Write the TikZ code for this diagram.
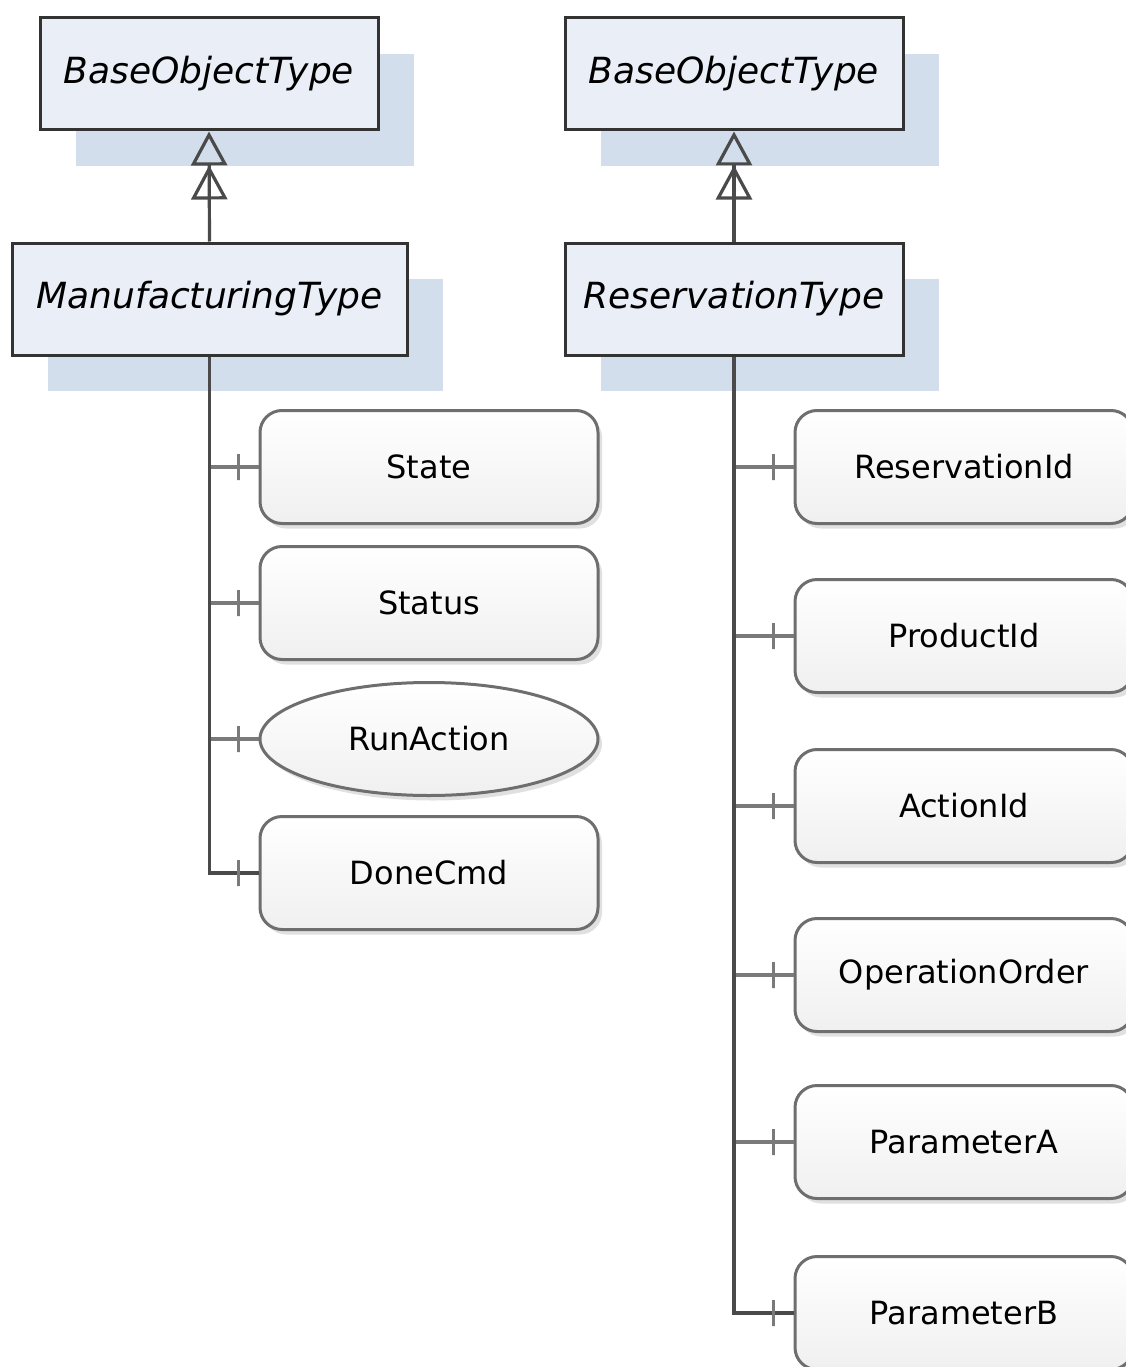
\documentclass[tikz,border=0pt]{standalone}
\usepackage{fontspec}
\setmainfont{DejaVu Sans}
\usetikzlibrary{arrows.meta,shadows,shapes.geometric}

\definecolor{typefill}{HTML}{E9EEF7}
\definecolor{typeshade}{HTML}{D3DEED}
\definecolor{typeline}{HTML}{333333}
\definecolor{trunkline}{HTML}{4A4A4A}
\definecolor{branchline}{HTML}{7A7A7A}
\definecolor{memberline}{HTML}{6E6E6E}

\tikzset{
  typebox/.style={draw=typeline, line width=3pt, fill=typefill, rectangle,
    inner sep=0pt, minimum height=112pt,
    general shadow={fill=typeshade, shadow xshift=36pt, shadow yshift=-36pt},
    font=\fontsize{36}{42}\selectfont\itshape},
  member/.style={draw=memberline, line width=3pt, rectangle, rounded corners=22pt,
    inner sep=0pt, minimum width=338pt, minimum height=113pt,
    top color=white, bottom color=black!6, middle color=black!3,
    drop shadow={shadow xshift=4pt, shadow yshift=-5pt, opacity=0.12, fill=black},
    font=\fontsize{32}{38}\selectfont},
  memberoval/.style={member, ellipse, rounded corners=0pt},
  trunk/.style={draw=trunkline, line width=3.2pt},
  branch/.style={draw=branchline, line width=3.2pt},
  tickbar/.style={draw=branchline, line width=3pt, rectangle, inner sep=0pt,
    minimum width=0pt, minimum height=26pt},
  inherit/.style={trunk, -{Triangle[open, length=34pt, width=36pt, sep=0pt]
    Triangle[open, length=34pt, width=36pt]}},
}

\begin{document}
\begin{tikzpicture}[x=1pt, y=-1pt]
\useasboundingbox (0,0) rectangle (1126,1367);
\clip (0,0) rectangle (1126,1367);

% ---- left hierarchy ----
\node[typebox, minimum width=338pt] (base1) at (209,74) {BaseObjectType};
\node[typebox, minimum width=395pt] (mfg) at (209.5,299) {ManufacturingType};

\node[member] (state) at (429,467) {State};
\node[member] (status) at (429,603) {Status};
\node[memberoval] (runaction) at (429,739) {RunAction};
\node[member] (donecmd) at (429,873) {DoneCmd};

% ---- right hierarchy ----
\node[typebox, minimum width=338pt] (base2) at (734,74) {BaseObjectType};
\node[typebox, minimum width=338pt] (resv) at (734,299) {ReservationType};

\node[member] (resid) at (964,467) {ReservationId};
\node[member] (prodid) at (964,636) {ProductId};
\node[member] (actid) at (964,806) {ActionId};
\node[member] (oporder) at (964,975) {OperationOrder};
\node[member] (parama) at (964,1142) {ParameterA};
\node[member] (paramb) at (964,1313) {ParameterB};

% ---- inheritance ----
\draw[inherit] (mfg.north) -- (base1.south);
\draw[inherit] (resv.north) -- (base2.south);

% ---- member connectors, left ----
\foreach \m in {state, status, runaction}
  \draw[branch] (mfg.south |- \m.west) -- (\m.west);
\draw[trunk] (mfg.south) |- (donecmd.west);
\foreach \m in {state, status, runaction, donecmd}
  \path (\m.west) ++(-20,0) node[tickbar] {};

% ---- member connectors, right ----
\foreach \m in {resid, prodid, actid, oporder, parama}
  \draw[branch] (resv.south |- \m.west) -- (\m.west);
\draw[trunk] (resv.south) |- (paramb.west);
\foreach \m in {resid, prodid, actid, oporder, parama, paramb}
  \path (\m.west) ++(-20,0) node[tickbar] {};
\end{tikzpicture}
\end{document}
